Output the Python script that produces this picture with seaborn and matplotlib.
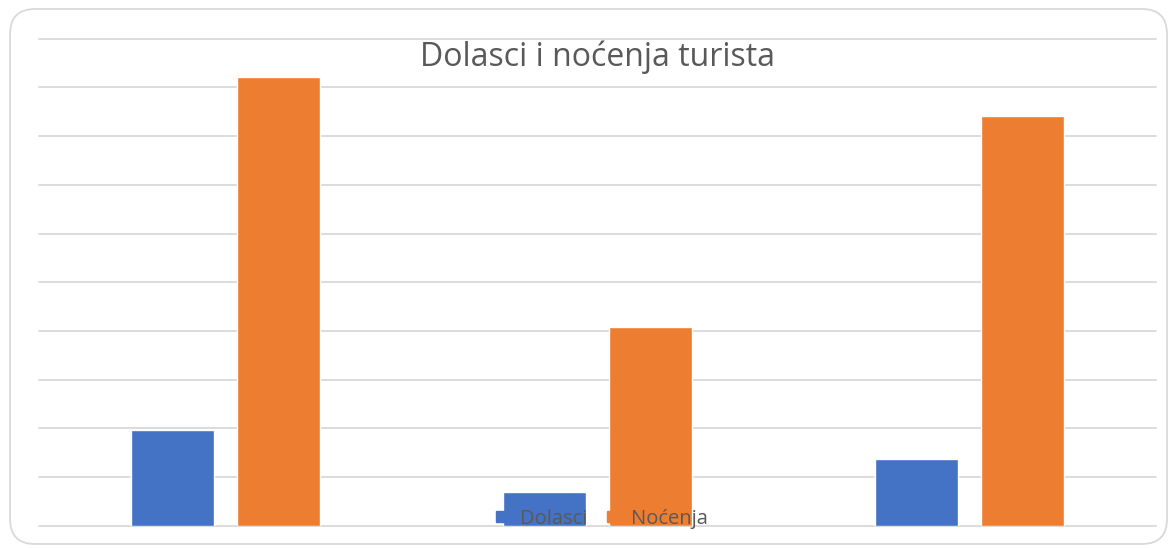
import pandas as pd
import matplotlib.pyplot as plt
import seaborn as sns
from matplotlib.patches import FancyBboxPatch, Patch

# values (no axis labels shown, grid units)
categories = ["1", "2", "3"]
dolasci = [1.97, 0.70, 1.37]
nocenja = [9.21, 4.09, 8.41]
series = ["Dolasci", "Noćenja"]
colors = ["#4472C4", "#ED7D31"]

df = pd.DataFrame({
    "kategorija": categories * 2,
    "serija": [series[0]] * 3 + [series[1]] * 3,
    "vrijednost": dolasci + nocenja,
})

sns.set_style("white")
plt.rcParams["font.family"] = ["Open Sans", "DejaVu Sans"]

fig = plt.figure(figsize=(11.71, 5.48), dpi=100)
ax = fig.add_axes([39 / 1171, 1 - 525.7 / 548, (1156 - 39) / 1171, (525.7 - 38.7) / 548])

sns.barplot(data=df, x="kategorija", y="vrijednost", hue="serija",
            palette=colors, saturation=1, width=0.57, gap=0.217, ax=ax,
            zorder=3, legend=False)

ax.set_ylim(0, 10)
ax.set_yticks(range(0, 11))
ax.yaxis.grid(True, color="#D9D9D9", linewidth=1.3, zorder=0)
for gl in ax.get_ygridlines():
    gl.set_clip_on(False)
ax.set_axisbelow(True)
ax.set_xlabel("")
ax.set_ylabel("")
ax.set_xticklabels([])
ax.set_yticklabels([])
ax.tick_params(length=0)
sns.despine(ax=ax, left=True, bottom=True)

fig.text(0.510, 1 - 57 / 548, "Dolasci i noćenja turista", ha="center", va="center",
         fontsize=23, color="#595959")

handles = [Patch(facecolor=c, edgecolor=c, label=s) for s, c in zip(series, colors)]
fig.legend(handles=handles, loc="center", bbox_to_anchor=(602 / 1171, 1 - 519 / 548),
           ncol=2, frameon=False, handlelength=0.45, handleheight=0.45,
           handletextpad=0.75, columnspacing=1.0, fontsize=14.5, labelcolor="#595959")

# rounded chart border
border = FancyBboxPatch((0.10 + 0.2, 0.04 + 0.2), 11.57 - 0.4, 5.35 - 0.4,
                        boxstyle="round,pad=0.2,rounding_size=0.25",
                        transform=fig.dpi_scale_trans, fill=False,
                        edgecolor="#D9D9D9", linewidth=1.3)
fig.patches.append(border)

fig.savefig("out.png", dpi=100)
